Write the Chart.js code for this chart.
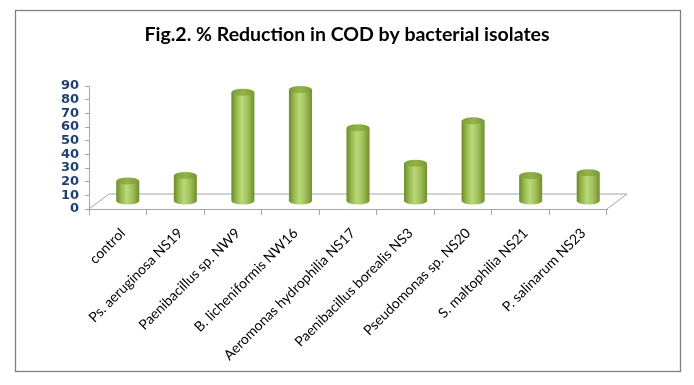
<!DOCTYPE html>
<html>
<head>
<meta charset="utf-8">
<script src="https://cdn.jsdelivr.net/npm/chart.js@4.4.1/dist/chart.umd.min.js"></script>
<style>
  body { margin: 0; background: #fff; }
</style>
</head>
<body>
<canvas id="grafico_cod" width="694" height="385"></canvas>
<script>
const isolados = ['control', 'Ps. aeruginosa NS19', 'Paenibacillus sp. NW9', 'B. licheniformis NW16',
  'Aeromonas hydrophilia NS17', 'Paenibacillus borealis NS3', 'Pseudomonas sp. NS20',
  'S. maltophilia NS21', 'P. salinarum NS23']
const reducao = [15, 19, 80, 82, 54, 28, 59, 19, 21]
const yTicks = [0, 10, 20, 30, 40, 50, 60, 70, 80, 90]

// profundidade do "3D" (chão)
const DX = 20, DY = 15

// moldura e chão
const moldura = {
  id: 'moldura',
  beforeDraw(chart) {
    const c = chart.ctx
    c.save()
    c.fillStyle = '#fff'
    c.fillRect(0, 0, chart.width, chart.height)
    c.strokeStyle = '#808080'
    c.lineWidth = 1.3
    c.strokeRect(15.5, 10.5, 665, 361)
    c.restore()
  },
  beforeDatasetsDraw(chart) {
    const c = chart.ctx, a = chart.chartArea
    c.save()
    c.strokeStyle = '#a6a6a6'
    c.lineWidth = 1
    c.beginPath()
    c.moveTo(a.left, a.bottom)
    c.lineTo(a.left + DX, a.bottom - DY)
    c.lineTo(a.right + DX, a.bottom - DY)
    c.lineTo(a.right, a.bottom)
    c.stroke()
    c.restore()
  }
}

// cilindros desenhados a partir das barras
const cilindros = {
  id: 'cilindros',
  afterDatasetsDraw(chart) {
    const c = chart.ctx
    const meta = chart.getDatasetMeta(0)
    meta.data.forEach(bar => {
      const w = bar.width, rx = w / 2, ry = 3.5
      const cx = bar.x + DX / 2
      const top = bar.y - DY / 2
      const bot = bar.base - DY / 2
      const left = cx - rx

      const g = c.createLinearGradient(left, 0, left + w, 0)
      g.addColorStop(0, '#6a8a26')
      g.addColorStop(0.2, '#94b64c')
      g.addColorStop(0.45, '#bcd97a')
      g.addColorStop(0.7, '#a2c15c')
      g.addColorStop(1, '#6f8f2a')

      c.save()
      c.fillStyle = g
      c.beginPath()
      c.moveTo(left, top)
      c.lineTo(left, bot)
      c.ellipse(cx, bot, rx, ry, 0, Math.PI, 0, true)
      c.lineTo(left + w, top)
      c.closePath()
      c.fill()

      const gt = c.createLinearGradient(left, 0, left + w, 0)
      gt.addColorStop(0, '#7c9c36')
      gt.addColorStop(0.5, '#94b44a')
      gt.addColorStop(1, '#7a9934')
      c.fillStyle = gt
      c.beginPath()
      c.ellipse(cx, top, rx, ry, 0, 0, Math.PI * 2)
      c.fill()
      c.restore()
    })
  }
}

const data = {
  labels: isolados,
  datasets: [{
    data: reducao,
    backgroundColor: 'rgba(0,0,0,0)',
    borderWidth: 0,
    categoryPercentage: 1,
    barPercentage: 0.4
  }]
}

const config = {
  type: 'bar',
  data,
  options: {
    responsive: false,
    animation: false,
    layout: { padding: 0 },
    plugins: {
      legend: { display: false },
      tooltip: { enabled: false },
      title: {
        display: true,
        text: 'Fig.2. % Reduction in COD by bacterial isolates',
        color: '#000',
        font: { family: 'Lato', size: 19.5, weight: 'bold', lineHeight: 1.2 },
        padding: { top: 23, bottom: 39.6 }
      }
    },
    scales: {
      x: {
        offset: true,
        grid: { display: true, drawOnChartArea: false, tickLength: 6, color: '#a6a6a6' },
        border: { color: '#a6a6a6' },
        ticks: {
          autoSkip: false, minRotation: 45, maxRotation: 45, padding: 10, labelOffset: 5,
          color: '#000', font: { family: 'Lato', size: 14 }
        },
        afterFit(s) { s.height = 176 }
      },
      y: {
        min: 0,
        max: 90,
        afterBuildTicks(s) { s.ticks = yTicks.map(v => ({ value: v })) },
        grid: { drawOnChartArea: false, tickLength: 4, color: '#a6a6a6' },
        border: { color: '#a6a6a6' },
        ticks: {
          autoSkip: false, padding: 6, color: '#1f3f6e',
          font: { family: 'DejaVu Sans', size: 13, weight: 'bold' }
        },
        afterFit(s) { s.width = 89 }
      },
      // eixo vazio só para reservar a margem direita
      y2: {
        position: 'right',
        display: true,
        grid: { display: false },
        border: { display: false },
        ticks: { display: false },
        afterFit(s) { s.width = 87 }
      }
    }
  },
  plugins: [moldura, cilindros]
}

const graph = new Chart(document.getElementById('grafico_cod'), config)
</script>
</body>
</html>
